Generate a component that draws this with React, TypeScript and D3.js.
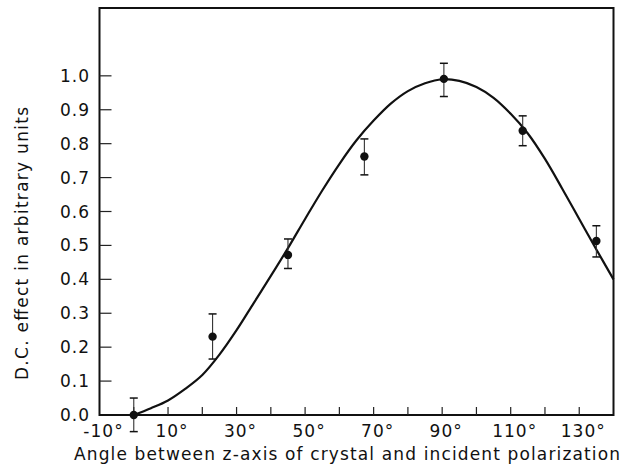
import React from "react";
import * as d3 from "d3";

// measured points (angle in degrees, D.C. effect)
const ANGLES = [0, 23, 45, 67.3, 90.5, 113.5, 135];
const EFFECT = [0.0, 0.231, 0.472, 0.762, 0.991, 0.838, 0.513];
const ERR_HI = [0.05, 0.298, 0.519, 0.814, 1.037, 0.882, 0.558];
const ERR_LO = [-0.049, 0.165, 0.432, 0.708, 0.939, 0.794, 0.466];

// theoretical curve
const CURVE_ANGLE = [0, 5, 10, 15, 20, 25, 30, 35, 40, 45, 50, 55, 60, 65, 70, 75, 80, 85, 90, 95, 100, 105, 110, 115, 120, 125, 130, 135, 140];
const CURVE_VALUE = [0, 0.02, 0.043, 0.077, 0.118, 0.178, 0.25, 0.33, 0.41, 0.492, 0.578, 0.662, 0.74, 0.81, 0.868, 0.918, 0.955, 0.978, 0.99, 0.985, 0.967, 0.935, 0.888, 0.83, 0.755, 0.668, 0.578, 0.488, 0.4];

const Y_TICKS = [0, 0.1, 0.2, 0.3, 0.4, 0.5, 0.6, 0.7, 0.8, 0.9, 1.0];
const X_TICKS = [0, 10, 20, 30, 40, 50, 60, 70, 80, 90, 100, 110, 120, 130];
const X_LABELS = [-10, 10, 30, 50, 70, 90, 110, 130];

const W = 623, H = 470;
const FONT = "'DejaVu Sans', sans-serif";

export default function App() {
  const x = d3.scaleLinear().domain([-10, 140]).range([99.5, 613.5]);
  const y = d3.scaleLinear().domain([0, 1.2]).range([415, 8]);

  const line = d3.line<number>()
    .x((d, i) => x(CURVE_ANGLE[i]))
    .y(d => y(d))
    .curve(d3.curveCatmullRom);

  return (
    <svg width={W} height={H} style={{ position: "absolute", left: 0, top: 0, background: "#fff" }}>
      {/* frame */}
      <rect x={x(-10)} y={y(1.2)} width={x(140) - x(-10)} height={y(0) - y(1.2)}
        fill="none" stroke="#111" strokeWidth={2} />

      {/* y ticks */}
      {Y_TICKS.map(t => (
        <g key={"y" + t}>
          {t > 0 && <line x1={x(-10)} x2={x(-10) + 12} y1={y(t)} y2={y(t)} stroke="#222" strokeWidth={1.2} />}
          <text x={90} y={y(t) + 6} textAnchor="end" fontSize={17} letterSpacing={1}
            fontFamily={FONT} fill="#111">{t.toFixed(1)}</text>
        </g>
      ))}

      {/* x ticks */}
      {X_TICKS.map(t => (
        <line key={"x" + t} x1={x(t)} x2={x(t)} y1={y(0)} y2={y(0) - 8} stroke="#222" strokeWidth={1.2} />
      ))}
      {X_LABELS.map(t => (
        <text key={"xl" + t} x={x(t) + 4} y={437} textAnchor="middle" fontSize={17}
          letterSpacing={1} fontFamily={FONT} fill="#111">{t + "°"}</text>
      ))}

      {/* curve */}
      <path d={line(CURVE_VALUE) || ""} fill="none" stroke="#111" strokeWidth={2.2} />

      {/* error bars and points */}
      {ANGLES.map((a, i) => (
        <g key={"p" + i}>
          <line x1={x(a)} x2={x(a)} y1={y(ERR_LO[i])} y2={y(ERR_HI[i])} stroke="#333" strokeWidth={1.1} />
          <line x1={x(a) - 4} x2={x(a) + 4} y1={y(ERR_LO[i])} y2={y(ERR_LO[i])} stroke="#111" strokeWidth={1.5} />
          <line x1={x(a) - 4} x2={x(a) + 4} y1={y(ERR_HI[i])} y2={y(ERR_HI[i])} stroke="#111" strokeWidth={1.5} />
          <circle cx={x(a)} cy={y(EFFECT[i])} r={4.2} fill="#111" />
        </g>
      ))}

      {/* axis titles */}
      <text x={74} y={460} textLength={546} lengthAdjust="spacing" fontSize={17}
        fontFamily={FONT} fill="#111">Angle between z-axis of crystal and incident polarization</text>
      <text transform="translate(28,380) rotate(-90)" x={0} y={0} textLength={273} lengthAdjust="spacing"
        fontSize={17} fontFamily={FONT} fill="#111">D.C. effect in arbitrary units</text>
    </svg>
  );
}
